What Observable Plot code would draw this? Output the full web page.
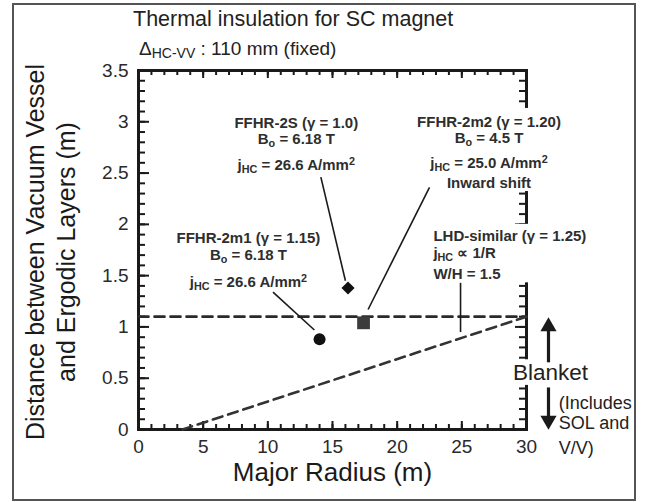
<!DOCTYPE html>
<html>
<head>
<meta charset="utf-8">
<script src="https://cdn.jsdelivr.net/npm/d3@7"></script>
<script src="https://cdn.jsdelivr.net/npm/@observablehq/plot@0.6"></script>
<style>
  body { margin: 0; background: #fff; font-family: "Liberation Sans", Arial, sans-serif; }
  #wrap { position: relative; width: 645px; height: 502px; overflow: hidden; background: #fff; }
  #chart { position: absolute; left: 0; top: 0; }
  #border { position: absolute; left: 12px; top: 3px; width: 624px; height: 498px; border: 2px solid #555; box-sizing: border-box; pointer-events: none; }
  #title { position: absolute; left: 133px; top: 9px; font-size: 21.5px; line-height: 1; color: #222; white-space: nowrap; }
  #subtitle { position: absolute; left: 139px; top: 39px; font-size: 19px; line-height: 1; color: #222; white-space: nowrap; }
  #subtitle .sub { font-size: 14px; position: relative; top: 3px; }
</style>
</head>
<body>
<div id="wrap">
  <div id="chart"></div>
  <div id="title"></div>
  <div id="subtitle"></div>
  <div id="border"></div>
</div>
<script>
// ---- texts ----
const titleText = "Thermal insulation for SC magnet";
const subtitleParts = ["Δ", "HC-VV", " : 110 mm (fixed)"];
const xLabel = "Major Radius (m)";
const yLabelLines = ["Distance between Vacuum Vessel", "and Ergodic Layers (m)"];

// ---- axis ticks ----
const xMajor = [0, 5, 10, 15, 20, 25, 30];
const xMinor = d3.range(0, 31, 1);
const yMajor = [0, 0.5, 1, 1.5, 2, 2.5, 3, 3.5];
const yMinor = d3.range(0, 36, 1).map(d => d / 10);

// ---- design points ----
const designs = ["FFHR-2m1", "FFHR-2S", "FFHR-2m2"];
const majorRadius = [14.0, 16.2, 17.4];
const distance = [0.88, 1.38, 1.04];

// ---- reference lines ----
const blanketLineR = [0, 30];
const blanketLineD = [1.1, 1.1];
const lhdLineR = [3.4, 30];
const lhdLineD = [0, 1.1];

// ---- leader lines (2S, 2m1, 2m2, LHD) ----
const leaderR1 = [14.1, 10.4, 22.5, 24.9];
const leaderD1 = [2.46, 1.34, 2.36, 1.43];
const leaderR2 = [16.0, 13.6, 17.75, 24.9];
const leaderD2 = [1.45, 0.97, 1.17, 0.95];

// ---- centred annotation text ----
const noteText = [
  "FFHR-2S (γ = 1.0)", "B_{o} = 6.18 T", "j_{HC} = 26.6 A/mm^{2}",
  "FFHR-2m2 (γ = 1.20)", "B_{o} = 4.5 T", "j_{HC} = 25.0 A/mm^{2}", "Inward shift",
  "FFHR-2m1 (γ = 1.15)", "B_{o} = 6.18 T", "j_{HC} = 26.6 A/mm^{2}"
];
const noteR = [12.2, 12.2, 12.2, 27.1, 27.1, 27.1, 27.1, 8.5, 8.5, 8.5];
const noteD = [2.99, 2.83, 2.58, 3.0, 2.84, 2.60, 2.40, 1.87, 1.70, 1.44];

// ---- left-aligned LHD annotation ----
const lhdText = ["LHD-similar (γ = 1.25)", "j_{HC} ∝ 1/R", "W/H = 1.5"];
const lhdTextR = [22.8, 22.8, 22.8];
const lhdTextD = [1.88, 1.72, 1.51];

// ---- blanket annotation (right of frame) ----
const blanketText = ["Blanket"];
const blanketR = [31.85];
const blanketD = [0.55];
const includesText = ["(Includes", "SOL and", "V/V)"];
const includesR = [32.5, 32.5, 32.5];
const includesD = [0.26, 0.06, -0.18];
const arrowR = [31.7];
const upFrom = [0.655], upShaftEnd = [1.0], upTip = [1.09];
const downFrom = [0.41], downShaftEnd = [0.09], downTip = [0.0];

// ---- white backing boxes behind text blocks (2m2, LHD, Blanket) ----
const boxR1 = [21.6, 22.6, 28.9];
const boxR2 = [32.0, 35.3, 35.0];
const boxD1 = [2.32, 1.43, 0.43];
const boxD2 = [3.13, 2.0, 0.68];

document.getElementById("title").textContent = titleText;
const sub = document.getElementById("subtitle");
sub.append(subtitleParts[0]);
const sp = document.createElement("span"); sp.className = "sub"; sp.textContent = subtitleParts[1];
sub.append(sp);
sub.append(subtitleParts[2]);

const W = 645, H = 502, mT = 70, mR = 119, mB = 73, mL = 138;
const fw = W - mL - mR, fh = H - mT - mB;
const ink = "#1a1a1a";
const textInk = "#2e2e2e";

const chart = Plot.plot({
  width: W, height: H,
  marginTop: mT, marginRight: mR, marginBottom: mB, marginLeft: mL,
  style: { fontFamily: '"Liberation Sans", Arial, sans-serif', background: "transparent", overflow: "visible", color: ink },
  x: { domain: [0, 30] },
  y: { domain: [0, 3.5] },
  marks: [
    // inward ticks, all four sides
    Plot.tickX(xMinor, { x: d => d, insetTop: fh - 5, stroke: ink, strokeWidth: 2 }),
    Plot.tickX(xMajor, { x: d => d, insetTop: fh - 8, stroke: ink, strokeWidth: 2 }),
    Plot.tickX(xMinor, { x: d => d, insetBottom: fh - 5, stroke: ink, strokeWidth: 2 }),
    Plot.tickX(xMajor, { x: d => d, insetBottom: fh - 8, stroke: ink, strokeWidth: 2 }),
    Plot.tickY(yMinor, { y: d => d, insetRight: fw - 7, stroke: ink, strokeWidth: 2 }),
    Plot.tickY(yMajor, { y: d => d, insetRight: fw - 11, stroke: ink, strokeWidth: 2 }),
    Plot.tickY(yMinor, { y: d => d, insetLeft: fw - 7, stroke: ink, strokeWidth: 2 }),
    Plot.tickY(yMajor, { y: d => d, insetLeft: fw - 11, stroke: ink, strokeWidth: 2 }),
    Plot.frame({ stroke: ink, strokeWidth: 3 }),
    Plot.axisX(xMajor, { anchor: "bottom", tickSize: 0, tickPadding: 10, fontSize: 19, fill: "#2a2a2a", label: null, tickFormat: d => String(d) }),
    Plot.axisY(yMajor, { anchor: "left", tickSize: 0, tickPadding: 10, fontSize: 19, fill: "#2a2a2a", label: null, tickFormat: d => String(d) }),

    // dashed reference lines
    Plot.line(blanketLineR, { x: blanketLineR, y: blanketLineD, stroke: "#2a2a2a", strokeWidth: 2.6, strokeDasharray: "10,6" }),
    Plot.line(lhdLineR, { x: lhdLineR, y: lhdLineD, stroke: "#333", strokeWidth: 2.6, strokeDasharray: "10,6" }),

    // white backing boxes
    Plot.rect(boxR1, { x1: boxR1, x2: boxR2, y1: boxD1, y2: boxD2, fill: "white" }),

    // leader lines
    Plot.link(leaderR1, { x1: leaderR1, y1: leaderD1, x2: leaderR2, y2: leaderD2, stroke: ink, strokeWidth: 1.6 }),

    // design points
    Plot.dot([designs[0]], { x: [majorRadius[0]], y: [distance[0]], symbol: "circle", r: 6, fill: "#111", stroke: null }),
    Plot.dot([designs[1]], { x: [majorRadius[1]], y: [distance[1]], symbol: "diamond2", r: 5.9, fill: "#111", stroke: null }),
    Plot.dot([designs[2]], { x: [majorRadius[2]], y: [distance[2]], symbol: "square", r: 7.2, fill: "#3c3c3c", stroke: null }),

    // annotation text
    Plot.text(noteText, { x: noteR, y: noteD, text: d => d, fontSize: 15, fontWeight: "bold", fill: textInk, textAnchor: "middle" }),
    Plot.text(lhdText, { x: lhdTextR, y: lhdTextD, text: d => d, fontSize: 15, fontWeight: "bold", fill: textInk, textAnchor: "start" }),
    Plot.text(blanketText, { x: blanketR, y: blanketD, text: d => d, fontSize: 22.5, fill: "#222", textAnchor: "middle" }),
    Plot.text(includesText, { x: includesR, y: includesD, text: d => d, fontSize: 18, fill: "#222", textAnchor: "start" }),

    // arrows
    Plot.link(arrowR, { x1: arrowR, y1: upFrom, x2: arrowR, y2: upShaftEnd, stroke: ink, strokeWidth: 3.2 }),
    Plot.dot(arrowR, { x: arrowR, y: upTip, symbol: "triangle", r: 6, dy: 9, fill: ink, stroke: null }),
    Plot.link(arrowR, { x1: arrowR, y1: downFrom, x2: arrowR, y2: downShaftEnd, stroke: ink, strokeWidth: 3.2 }),
    Plot.dot(arrowR, { x: arrowR, y: downTip, symbol: "triangle", r: 6, rotate: 180, dy: -9, fill: ink, stroke: null }),

    // axis titles
    Plot.text([xLabel], { frameAnchor: "bottom", dy: 51, fontSize: 26, fill: "#1a1a1a", textAnchor: "middle" }),
    Plot.text([yLabelLines[0]], { frameAnchor: "left", rotate: -90, dx: -103, dy: 2, fontSize: 25, fill: "#1a1a1a", textAnchor: "middle" }),
    Plot.text([yLabelLines[1]], { frameAnchor: "left", rotate: -90, dx: -72, dy: 2, fontSize: 25, fill: "#1a1a1a", textAnchor: "middle" })
  ]
});

// turn _{..} / ^{..} markup into real sub/superscript tspans
function addSpan(t, str, kind) {
  const ts = document.createElementNS("http://www.w3.org/2000/svg", "tspan");
  ts.textContent = str;
  if (kind === "sub") { ts.setAttribute("font-size", "72%"); ts.setAttribute("baseline-shift", "-0.25em"); }
  if (kind === "sup") { ts.setAttribute("font-size", "72%"); ts.setAttribute("baseline-shift", "0.5em"); }
  t.appendChild(ts);
}
chart.querySelectorAll("text").forEach(t => {
  const s = t.textContent;
  if (!/[_^]\{/.test(s)) return;
  t.textContent = "";
  const re = /([_^])\{([^}]*)\}/g;
  let last = 0, m;
  while ((m = re.exec(s))) {
    if (m.index > last) addSpan(t, s.slice(last, m.index));
    addSpan(t, m[2], m[1] === "_" ? "sub" : "sup");
    last = re.lastIndex;
  }
  if (last < s.length) addSpan(t, s.slice(last));
});

document.getElementById("chart").appendChild(chart);
</script>
</body>
</html>
